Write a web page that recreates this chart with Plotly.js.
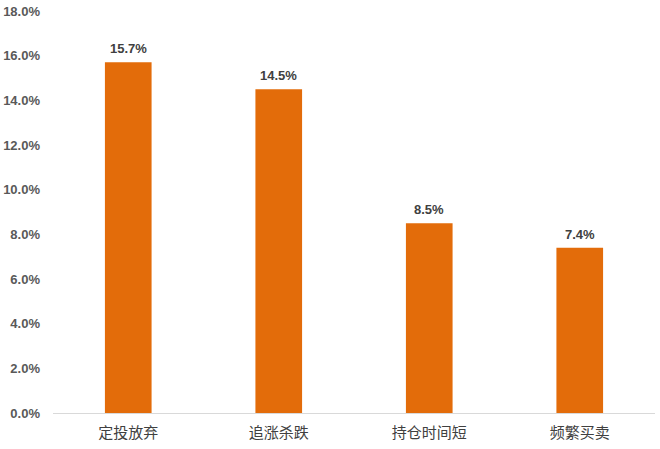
<!DOCTYPE html>
<html><head><meta charset="utf-8">
<script src="https://cdn.plot.ly/plotly-3.0.1.min.js"></script>
<style>html,body{margin:0;padding:0;background:#fff;}#chart{width:660px;height:449px;}</style>
</head><body><div id="chart"></div>
<script>
const categories = ["定投放弃", "追涨杀跌", "持仓时间短", "频繁买卖"];
const values = [15.7, 14.5, 8.5, 7.4];
const tickVals = [0, 2, 4, 6, 8, 10, 12, 14, 16, 18];
const tickText = tickVals.map(v => v.toFixed(1) + "%");

const trace = {
  type: "bar",
  x: categories,
  y: values,
  marker: {color: "#E36C0A"},
  hoverinfo: "none"
};
const annotations = categories.map((c, i) => ({
  x: c, y: values[i], xref: "x", yref: "y",
  text: "<b>" + values[i].toFixed(1) + "%</b>",
  showarrow: false, yanchor: "bottom", yshift: 4,
  font: {family: "Liberation Sans, Noto Sans CJK SC", size: 13, color: "#404040"}
}));
const layout = {
  width: 660, height: 449,
  margin: {l: 53, r: 5, t: 11, b: 36},
  paper_bgcolor: "#fff", plot_bgcolor: "#fff",
  bargap: 0.69,
  showlegend: false,
  annotations: annotations,
  xaxis: {
    showline: true, linecolor: "#d9d9d9", linewidth: 1,
    ticks: "", tickfont: {family: "Noto Sans CJK SC", size: 15, color: "#404040"},
    ticklabelstandoff: 6,
    fixedrange: true
  },
  yaxis: {
    range: [0, 18], tickvals: tickVals, ticktext: tickText,
    showgrid: false, zeroline: false, showline: false,
    tickfont: {family: "Liberation Sans", size: 13, color: "#595959", weight: "bold"},
    ticklabelstandoff: 12
  },
  font: {family: "Noto Sans CJK SC"}
};
Plotly.newPlot("chart", [trace], layout, {displayModeBar: false, staticPlot: true});
</script>
</body></html>
